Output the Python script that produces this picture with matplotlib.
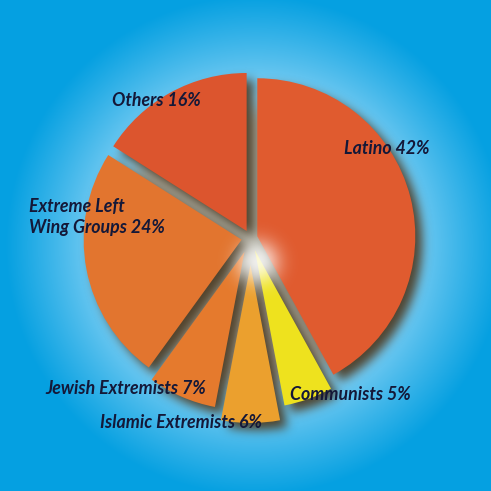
import numpy as np
import matplotlib
matplotlib.use('Agg')
from matplotlib import pyplot as plt
from matplotlib.patches import Circle

# data, counter-clockwise from 12 o'clock
groups = ['Others', 'Extreme Left\nWing Groups', 'Jewish Extremists',
          'Islamic Extremists', 'Communists', 'Latino']
shares = [16, 24, 7, 6, 5, 42]
explode = [8, 9, 15, 27, 13, 7]   # pixels
colors = ['#DC552E', '#E2752F', '#E57A2D', '#EBA02E', '#EEE21E', '#E05B2F']

W = 491
CX, CY = 250.5, W - 238
R = 158


def gauss_blur(a, sigma):
    n = int(3 * sigma)
    x = np.arange(-n, n + 1)
    k = np.exp(-x ** 2 / (2 * sigma ** 2))
    k /= k.sum()
    a = np.apply_along_axis(lambda m: np.convolve(m, k, mode='same'), 0, a)
    a = np.apply_along_axis(lambda m: np.convolve(m, k, mode='same'), 1, a)
    return a


class SoftFilter:
    # blurred single-colour copy of an artist, optionally shifted (pixels)
    def __init__(self, sigma, color, alpha, dx=0, dy=0):
        self.sigma = sigma
        self.color = color
        self.alpha = alpha
        self.dx = dx
        self.dy = dy

    def __call__(self, im, dpi):
        pad = int(3 * self.sigma) + max(abs(self.dx), abs(self.dy)) + 2
        src = np.pad(im, [(pad, pad), (pad, pad), (0, 0)], 'constant')
        src = np.roll(src, self.dx, axis=1)
        src = np.roll(src, self.dy, axis=0)
        out = np.empty_like(src)
        out[:, :, :3] = self.color
        out[:, :, 3] = np.clip(gauss_blur(src[:, :, 3], self.sigma) * self.alpha, 0, 1)
        return out, -pad, -pad


fig = plt.figure(figsize=(4.91, 4.91), dpi=100)
ax = fig.add_axes([0, 0, 1, 1])

# background: radial blue gradient with a pale halo round the pie
yy, xx = np.mgrid[0:W, 0:W]
d = np.hypot(xx - 255, yy - 245)
t = np.clip((d - 150) / 100, 0, 1) ** 0.9
light = np.array([135, 210, 245]) / 255
dark = np.array([5, 160, 225]) / 255
bg = light[None, None, :] * (1 - t[..., None]) + dark[None, None, :] * t[..., None]
ax.imshow(bg, extent=(0, W, 0, W), origin='upper', zorder=0)

# grey disc seen through the gaps between slices
base = Circle((CX + 3, CY - 8), R - 22, color='#aaa89c', zorder=0.5)
base.set_agg_filter(SoftFilter(9, (0.67, 0.66, 0.61), 1.0))
ax.add_patch(base)

# drop shadow
sh, _ = ax.pie(shares, explode=explode, startangle=90, counterclock=True,
               radius=R, center=(CX, CY), colors=['k'] * len(shares),
               wedgeprops=dict(linewidth=0))
for w in sh:
    w.set_zorder(1)
    w.set_agg_filter(SoftFilter(5, (0.30, 0.24, 0.15), 0.95, dx=7, dy=7))

wedges, _ = ax.pie(shares, explode=explode, startangle=90, counterclock=True,
                   radius=R, center=(CX, CY), colors=colors,
                   wedgeprops=dict(linewidth=0))
for w in wedges:
    w.set_zorder(2)

# white glow in the middle
glow = Circle((258, W - 262), 18, color='white', zorder=3)
glow.set_agg_filter(SoftFilter(10, (1, 1, 1), 1.0))
ax.add_patch(glow)

txt = dict(fontfamily='Lato', fontweight='bold', fontstyle='italic',
           fontsize=12.8, color='#141838', ha='left', va='center', zorder=5)
ax.text(112, W - 100, f'{groups[0]} {shares[0]}%', **txt)
ax.text(29, W - 217, f'{groups[1]} {shares[1]}%', linespacing=1.3, **txt)
ax.text(45, W - 389, f'{groups[2]} {shares[2]}%', **txt)
ax.text(100, W - 422, f'{groups[3]} {shares[3]}%', **txt)
ax.text(290, W - 394, f'{groups[4]} {shares[4]}%', **txt)
ax.text(344, W - 148, f'{groups[5]} {shares[5]}%', **txt)

ax.set_xlim(0, W)
ax.set_ylim(0, W)
ax.set_aspect('equal')
ax.axis('off')

fig.savefig('out.png', dpi=100)
plt.close(fig)
